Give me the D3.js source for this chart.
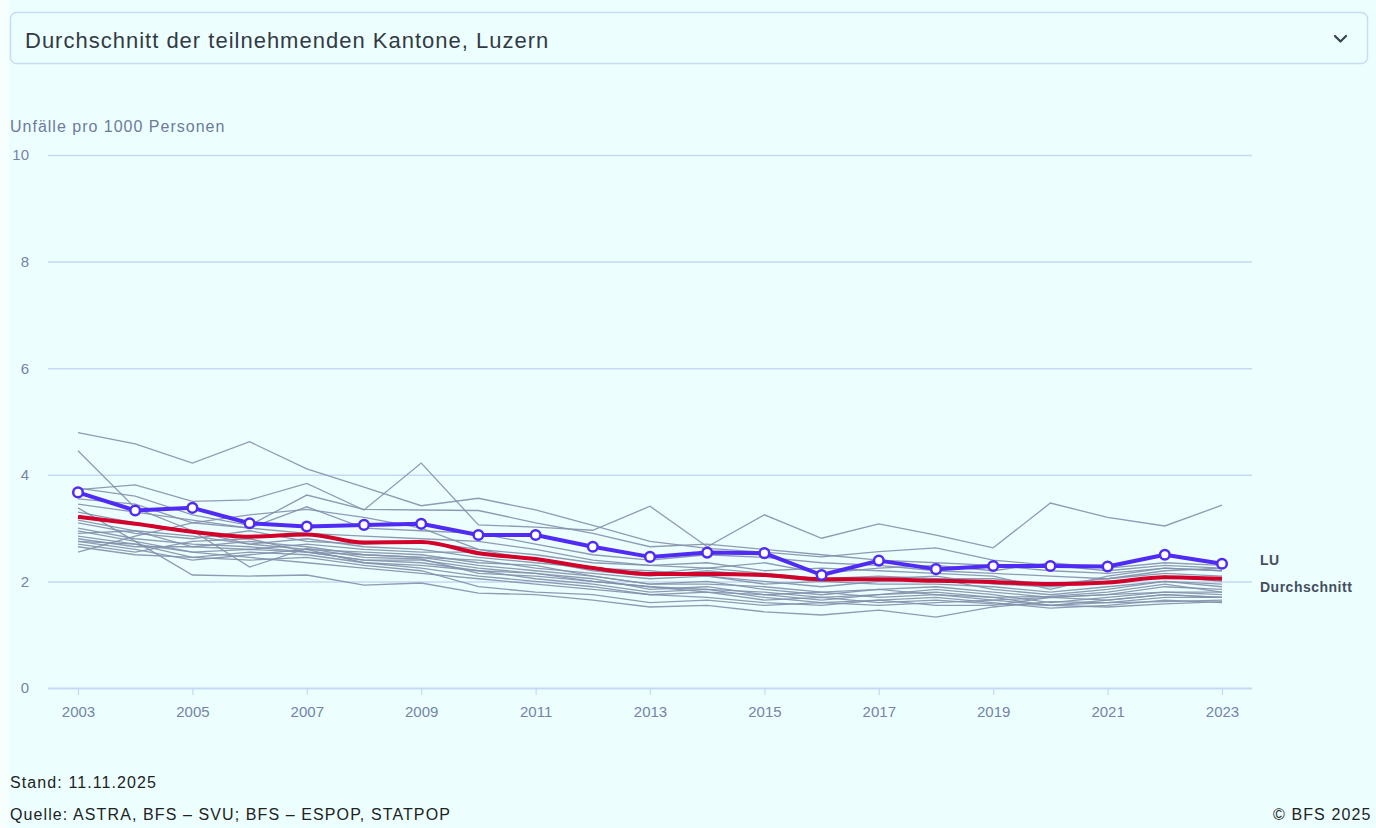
<!DOCTYPE html>
<html>
<head>
<meta charset="utf-8">
<script src="https://cdn.jsdelivr.net/npm/d3@7"></script>
<style>
  html, body { margin:0; padding:0; background:#ecfffe; }
  body { width:1376px; height:828px; overflow:hidden; font-family:"Liberation Sans", Arial, sans-serif; }
</style>
</head>
<body>
<div id="plot"></div>
<script>
// data
var years = d3.range(2003, 2024);
var tickYears = [2003,2005,2007,2009,2011,2013,2015,2017,2019,2021,2023];
var yTicks = [0,2,4,6,8,10];

var luzern = [3.67,3.33,3.38,3.09,3.03,3.06,3.08,2.87,2.87,2.65,2.46,2.54,2.53,2.12,2.39,2.23,2.29,2.29,2.28,2.50,2.33];
var durchschnitt = [3.21,3.08,2.93,2.84,2.88,2.73,2.74,2.53,2.42,2.25,2.14,2.14,2.12,2.04,2.04,2.01,1.99,1.95,1.98,2.08,2.05];

// other participating cantons
var kantone = [
  [4.79,4.58,4.22,4.62,4.11,3.77,3.42,3.56,3.34,3.05,2.75,2.62,2.55,2.46,2.56,2.63,2.40,2.30,2.20,2.30,2.25],
  [3.72,3.81,3.50,3.53,3.84,3.34,4.22,3.06,3.02,2.96,3.41,2.65,3.25,2.81,3.08,2.87,2.63,3.47,3.20,3.04,3.43],
  [4.45,3.38,2.95,2.27,2.62,2.45,2.42,2.15,2.10,2.00,1.90,1.85,1.80,1.70,1.75,1.80,1.70,1.55,1.60,1.70,1.70],
  [3.38,2.75,2.12,2.10,2.12,1.93,1.97,1.78,1.75,1.65,1.52,1.55,1.43,1.37,1.46,1.33,1.52,1.62,1.60,1.62,1.65],
  [2.55,2.85,3.10,3.25,3.35,3.20,3.00,2.60,2.40,2.20,2.10,2.20,2.10,2.00,2.05,2.10,1.95,1.90,2.00,2.10,2.00],
  [3.75,3.60,3.25,3.05,3.62,3.35,3.34,3.33,3.10,2.90,2.65,2.70,2.60,2.50,2.40,2.35,2.30,2.20,2.15,2.25,2.20],
  [3.55,3.45,3.10,3.00,3.40,3.00,2.95,2.90,2.70,2.50,2.40,2.50,2.45,2.35,2.30,2.20,2.15,2.10,2.05,2.15,2.10],
  [3.30,3.10,2.95,2.70,2.60,2.55,2.50,2.35,2.30,2.10,1.95,2.00,1.85,1.75,1.85,1.90,1.80,1.70,1.75,1.90,1.85],
  [3.00,2.80,2.70,2.65,2.55,2.40,2.35,2.20,2.15,2.05,1.85,1.90,1.75,1.65,1.75,1.85,1.75,1.60,1.70,1.80,1.75],
  [2.95,2.75,2.55,2.60,2.55,2.50,2.45,2.30,2.20,2.10,1.95,1.95,1.90,1.80,1.85,1.75,1.65,1.55,1.65,1.75,1.70],
  [2.85,2.70,2.45,2.55,2.50,2.35,2.30,2.20,2.05,1.95,1.80,1.85,1.70,1.60,1.65,1.70,1.60,1.50,1.55,1.65,1.60],
  [2.75,2.60,2.40,2.50,2.60,2.35,2.25,2.10,2.00,1.90,1.75,1.80,1.65,1.70,1.60,1.65,1.58,1.55,1.52,1.58,1.62],
  [2.70,2.55,2.75,2.80,2.55,2.40,2.40,2.25,2.15,2.00,1.90,1.80,1.75,1.80,1.70,1.75,1.70,1.72,1.80,1.95,1.80],
  [2.90,2.95,2.85,2.70,2.80,2.65,2.60,2.45,2.35,2.25,2.15,2.25,2.15,2.05,2.10,2.05,2.05,1.95,2.05,2.20,2.25],
  [3.10,2.90,2.80,2.95,2.75,2.70,2.75,2.60,2.50,2.35,2.30,2.35,2.20,2.25,2.20,2.15,2.10,1.85,2.10,2.25,2.20],
  [2.80,2.65,2.65,2.60,2.70,2.60,2.55,2.55,2.40,2.25,2.20,2.10,2.00,1.90,2.00,2.05,1.85,1.75,1.85,2.00,1.95],
  [2.65,2.50,2.45,2.40,2.45,2.30,2.20,1.90,1.80,1.75,1.60,1.65,1.55,1.60,1.55,1.60,1.65,1.70,1.65,1.75,1.70],
  [3.15,2.95,2.65,2.75,2.65,2.50,2.45,2.40,2.25,2.15,2.05,2.10,1.95,2.00,1.95,1.95,1.90,1.80,1.90,2.00,1.90],
  [3.45,3.30,3.15,3.00,2.90,2.85,2.80,2.75,2.60,2.40,2.30,2.25,2.35,2.15,2.25,2.30,2.20,2.35,2.25,2.35,2.30],
  [2.75,2.70,2.55,2.45,2.35,2.25,2.15,2.05,1.95,1.85,1.75,1.70,1.60,1.55,1.65,1.55,1.55,1.70,1.75,1.80,1.80]
];

var W = 1376, H = 828;
var svg = d3.select('#plot').append('svg')
  .attr('width', W).attr('height', H)
  .style('display','block');

// left edge strip
svg.append('rect').attr('x',0).attr('y',0).attr('width',9).attr('height',H).attr('fill','#f6fffe');

// dropdown box
svg.append('rect')
  .attr('x',10.5).attr('y',12.5).attr('width',1357).attr('height',51).attr('rx',6)
  .attr('fill','#ecfffe').attr('stroke','#c8dcf3').attr('stroke-width',1.5);
svg.append('text')
  .attr('x',25).attr('y',48)
  .attr('font-size',22).attr('letter-spacing',1).attr('fill','#333a45')
  .text('Durchschnitt der teilnehmenden Kantone, Luzern');
svg.append('path')
  .attr('d','M1335,36 L1340.5,41.5 L1346,36')
  .attr('fill','none').attr('stroke','#3a4150').attr('stroke-width',2.2)
  .attr('stroke-linecap','round').attr('stroke-linejoin','round');

// scales
var x = d3.scaleLinear().domain([2003,2023]).range([78,1222]);
var y = d3.scaleLinear().domain([0,10]).range([688,155]);
var left = 48, right = 1252;

svg.append('text')
  .attr('x',10).attr('y',132)
  .attr('font-size',16).attr('letter-spacing',1).attr('fill','#6d7a9c')
  .text('Unfälle pro 1000 Personen');

// y axis + grid
var yAxis = svg.append('g')
  .attr('transform','translate('+left+',0)')
  .call(d3.axisLeft(y).tickValues(yTicks).tickSize(-(right-left)).tickPadding(19));
yAxis.select('.domain').remove();
yAxis.selectAll('line').attr('stroke','#c6d9f2').attr('stroke-width',1.5);
yAxis.selectAll('text').attr('font-size',15).attr('fill','#7583a6').attr('font-family','"Liberation Sans", Arial, sans-serif');
yAxis.selectAll('.tick').filter(function(d){ return d === 0; }).select('line').attr('stroke-width',2.2);

// x axis
var xAxis = svg.append('g')
  .attr('transform','translate(0,'+y(0)+')')
  .call(d3.axisBottom(x).tickValues(tickYears).tickFormat(d3.format('d')).tickSize(7).tickPadding(11));
xAxis.select('.domain').remove();
xAxis.selectAll('line').attr('stroke','#c6d9f2').attr('stroke-width',1.2);
xAxis.selectAll('text').attr('font-size',15).attr('fill','#7583a6').attr('font-family','"Liberation Sans", Arial, sans-serif');

// lines
var line = d3.line().x(function(d,i){ return x(years[i]); }).y(function(d){ return y(d); });
var smooth = d3.line().curve(d3.curveMonotoneX).x(function(d,i){ return x(years[i]); }).y(function(d){ return y(d); });

svg.append('g').selectAll('path')
  .data(kantone)
  .join('path')
  .attr('d', line)
  .attr('fill','none')
  .attr('stroke','#8390ab')
  .attr('stroke-opacity',0.9)
  .attr('stroke-width',1.3);

svg.append('path')
  .datum(durchschnitt)
  .attr('d', smooth)
  .attr('fill','none')
  .attr('stroke','#d3022a')
  .attr('stroke-width',4);

svg.append('path')
  .datum(luzern)
  .attr('d', line)
  .attr('fill','none')
  .attr('stroke','#4f2bf5')
  .attr('stroke-width',4)
  .attr('stroke-linejoin','round');

svg.append('g').selectAll('circle')
  .data(luzern)
  .join('circle')
  .attr('cx', function(d,i){ return x(years[i]); })
  .attr('cy', function(d){ return y(d); })
  .attr('r', 4.8)
  .attr('fill','#ffffff')
  .attr('stroke','#4f2bf5')
  .attr('stroke-width',2.5);

// end labels
svg.append('text')
  .attr('x',1260).attr('y',560)
  .attr('dy','0.35em')
  .attr('font-size',14).attr('letter-spacing',0.5).attr('font-weight','bold').attr('fill','#464e5e')
  .text('LU');
svg.append('text')
  .attr('x',1260).attr('y',587)
  .attr('dy','0.35em')
  .attr('font-size',14).attr('letter-spacing',0.5).attr('font-weight','bold').attr('fill','#464e5e')
  .text('Durchschnitt');

// footer
svg.append('text').attr('x',10).attr('y',788).attr('font-size',16).attr('letter-spacing',1.1).attr('fill','#222').text('Stand: 11.11.2025');
svg.append('text').attr('x',10).attr('y',820).attr('font-size',16).attr('letter-spacing',1.1).attr('fill','#222').text('Quelle: ASTRA, BFS – SVU; BFS – ESPOP, STATPOP');
svg.append('text').attr('x',1273).attr('y',820).attr('font-size',16).attr('letter-spacing',1.1).attr('fill','#222').text('© BFS 2025');
</script>
</body>
</html>
